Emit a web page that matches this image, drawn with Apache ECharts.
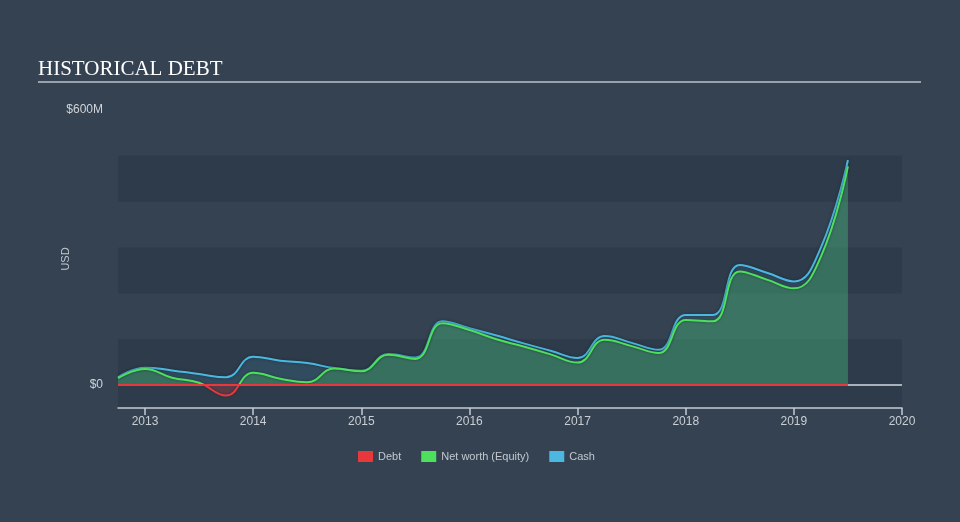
<!DOCTYPE html>
<html>
<head>
<meta charset="utf-8">
<script src="https://cdn.jsdelivr.net/npm/echarts@6/dist/echarts.min.js"></script>
<style>
html,body{margin:0;padding:0;background:#344252;}
#chart{width:960px;height:522px;}
</style>
</head>
<body>
<div id="chart"></div>
<script>
var periods = [2012.75,2013.0,2013.25,2013.5,2013.75,2014.0,2014.25,2014.5,2014.75,2015.0,2015.25,2015.5,2015.75,2016.0,2016.25,2016.5,2016.75,2017.0,2017.25,2017.5,2017.75,2018.0,2018.25,2018.5,2018.75,2019.0,2019.25,2019.5];
var cash = [17,38,32,24,17,62,53,48,37,31,68,60,139,124,108,91,75,59,107,92,77,153,153,262,245,226,300,491];
var netWorth = [15,35,16,5,-23,27,14,6,36,30,66,57,135,120,100,84,67,49,99,85,70,142,139,248,230,211,280,477];
var debt = [0,0,0,0,0,0,0,0,0,0,0,0,0,0,0,0,0,0,0,0,0,0,0,0,0,0,0,0];
var yearTicks = [2013,2014,2015,2016,2017,2018,2019,2020];
var zeroLine = [[2012.75,0],[2020,0]];

function pairs(vals){ return periods.map(function(p,i){ return [p, vals[i]]; }); }

var chart = echarts.init(document.getElementById('chart'));
var DARK = '#2e3b4a', CLEAR = 'rgba(0,0,0,0)';
chart.setOption({
  backgroundColor: '#344252',
  animation: false,
  title: {
    text: 'HISTORICAL DEBT', left: 33, top: 54,
    textStyle: { fontFamily: 'Liberation Serif', fontWeight: 'normal', fontSize: 21, color: '#ffffff' }
  },
  graphic: [{
    type: 'line', shape: { x1: 38, y1: 82, x2: 921, y2: 82 },
    style: { stroke: '#9aa1aa', lineWidth: 2 }, silent: true
  }, {
    type: 'text', x: 66, y: 259, rotation: Math.PI / 2, silent: true,
    style: { text: 'USD', fill: '#c3c8ce', fontSize: 11, fontFamily: 'Liberation Sans', align: 'center', verticalAlign: 'middle' }
  }],
  legend: {
    left: 353, top: 446, itemWidth: 15, itemHeight: 11, itemGap: 20, icon: 'rect',
    textStyle: { color: '#c3c8ce', fontSize: 11, fontFamily: 'Liberation Sans' },
    data: ['Debt', 'Net worth (Equity)', 'Cash']
  },
  visualMap: {
    show: false, type: 'piecewise', seriesIndex: 2, dimension: 1,
    pieces: [{ gte: -1000, lt: 0, color: '#e8383c' }, { gte: 0, lte: 10000, color: '#4de05c' }],
    outOfRange: { color: '#4de05c' }
  },
  grid: { left: 118, right: 58, top: 110, bottom: 114 },
  xAxis: {
    type: 'value', min: 2012.75, max: 2020,
    axisLine: { show: true, onZero: false, lineStyle: { color: '#c5cad1', width: 1.5 } },
    axisTick: { show: true, customValues: yearTicks, length: 7, lineStyle: { color: '#c5cad1', width: 1.5 } },
    axisLabel: { customValues: yearTicks, color: '#c9ced4', fontSize: 12, margin: 8, fontFamily: 'Liberation Sans',
      formatter: function(v){ return String(Math.round(v)); } },
    splitLine: { show: false }
  },
  yAxis: {
    type: 'value', min: -50, max: 600, interval: 50,
    axisLine: { show: false }, axisTick: { show: false },
    axisLabel: { color: '#d0d4d9', fontSize: 12, margin: 15, fontFamily: 'Liberation Sans',
      formatter: function(v){ if (v === 0) return '$0'; if (v === 600) return '$600M'; return ''; } },
    splitLine: { show: false },
    splitArea: { show: true, areaStyle: { color: [DARK, DARK, DARK, CLEAR, CLEAR, DARK, DARK, CLEAR, CLEAR, DARK, DARK, CLEAR, CLEAR] } }
  },
  series: [
    {
      name: 'zero', type: 'line', data: zeroLine, z: 1, silent: true, showSymbol: false,
      lineStyle: { color: '#d5d9de', width: 1.5 }, itemStyle: { color: '#d5d9de' }
    },
    {
      name: 'Cash', type: 'line', data: pairs(cash), smooth: 0.45, showSymbol: false, z: 2,
      itemStyle: { color: '#4ab8e0' },
      lineStyle: { color: '#4ab8e0', width: 2, shadowColor: 'rgba(20,30,40,0.6)', shadowBlur: 3 },
      areaStyle: { color: 'rgba(74,184,224,0.2)' }
    },
    {
      name: 'Net worth (Equity)', type: 'line', data: pairs(netWorth), smooth: 0.45, showSymbol: false, z: 3,
      itemStyle: { color: '#4de05c' },
      lineStyle: { width: 2, shadowColor: 'rgba(20,30,40,0.6)', shadowBlur: 3 },
      areaStyle: { opacity: 0.24 }
    },
    {
      name: 'Debt', type: 'line', data: pairs(debt), showSymbol: false, z: 5,
      itemStyle: { color: '#e8383c' },
      lineStyle: { color: '#e8383c', width: 2 }
    }
  ]
});
</script>
</body>
</html>
